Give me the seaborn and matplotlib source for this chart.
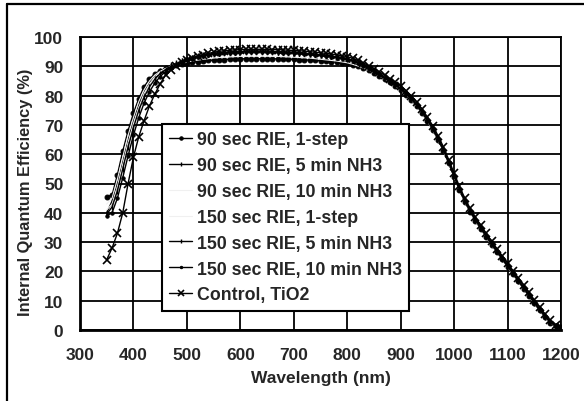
import matplotlib
matplotlib.use("Agg")
import matplotlib.pyplot as plt
from matplotlib.lines import Line2D
import seaborn as sns

# Wavelength grid (nm), 350-1200 in 10 nm steps
wavelength = list(range(350, 1201, 10))

rie90_1step = [
    45.5, 46.0, 53.0, 61.0, 68.0, 74.0, 79.0, 83.0, 85.7, 87.4,
    88.5, 89.3, 89.9, 90.4, 90.8, 91.1, 91.4, 91.6, 91.8, 92.0,
    92.1, 92.2, 92.3, 92.4, 92.5, 92.5, 92.6, 92.6, 92.6, 92.6,
    92.6, 92.6, 92.5, 92.5, 92.4, 92.4, 92.3, 92.2, 92.1, 92.0,
    91.9, 91.8, 91.6, 91.4, 91.2, 91.0, 90.6, 90.1, 89.5, 88.7,
    87.8, 86.8, 85.7, 84.5, 83.3, 81.9, 80.3, 78.5, 76.4, 74.0,
    71.3, 68.3, 64.9, 61.2, 56.9, 52.3, 47.8, 43.8, 40.3, 37.3,
    34.5, 31.8, 29.1, 26.6, 24.1, 21.6, 19.1, 16.6, 14.1, 11.6,
    9.1, 6.7, 4.4, 2.5, 1.2, 0.7,
]

rie90_nh3_5 = [
    40.0, 44.0, 50.0, 57.5, 65.0, 71.5, 77.0, 81.5, 84.5, 86.8,
    88.3, 89.4, 90.3, 91.0, 91.7, 92.3, 92.8, 93.2, 93.6, 93.9,
    94.1, 94.3, 94.5, 94.6, 94.7, 94.8, 94.8, 94.9, 94.9, 94.9,
    94.8, 94.8, 94.7, 94.6, 94.5, 94.4, 94.3, 94.2, 94.1, 93.9,
    93.7, 93.5, 93.3, 93.1, 92.8, 92.5, 91.9, 91.2, 90.3, 89.3,
    88.2, 87.1, 86.0, 84.8, 83.6, 82.2, 80.6, 78.8, 76.7, 74.3,
    71.6, 68.6, 65.2, 61.4, 57.0, 52.5, 48.0, 44.0, 40.5, 37.5,
    34.7, 32.0, 29.3, 26.8, 24.3, 21.8, 19.3, 16.8, 14.3, 11.8,
    9.3, 6.9, 4.6, 2.7, 1.3, 0.8,
]

rie90_nh3_10 = [
    41.0, 43.0, 49.0, 56.5, 64.0, 70.5, 76.0, 80.8, 84.0, 86.4,
    88.0, 89.2, 90.1, 90.9, 91.6, 92.2, 92.7, 93.1, 93.5, 93.8,
    94.0, 94.2, 94.4, 94.5, 94.6, 94.7, 94.7, 94.8, 94.8, 94.8,
    94.7, 94.7, 94.6, 94.5, 94.4, 94.3, 94.2, 94.1, 94.0, 93.8,
    93.6, 93.4, 93.2, 93.0, 92.7, 92.4, 91.8, 91.1, 90.2, 89.2,
    88.1, 87.0, 85.9, 84.7, 83.5, 82.1, 80.5, 78.7, 76.6, 74.2,
    71.5, 68.5, 65.1, 61.3, 56.9, 52.4, 47.9, 43.9, 40.4, 37.4,
    34.6, 31.9, 29.2, 26.7, 24.2, 21.7, 19.2, 16.7, 14.2, 11.7,
    9.2, 6.8, 4.5, 2.6, 1.2, 0.7,
]

rie150_1step = [
    43.0, 45.0, 51.5, 59.0, 66.5, 72.5, 78.0, 82.0, 85.0, 87.0,
    88.3, 89.2, 89.9, 90.5, 91.0, 91.4, 91.8, 92.1, 92.4, 92.6,
    92.8, 93.0, 93.1, 93.2, 93.3, 93.4, 93.4, 93.5, 93.5, 93.5,
    93.5, 93.4, 93.4, 93.3, 93.2, 93.1, 93.0, 92.9, 92.8, 92.6,
    92.4, 92.2, 92.0, 91.8, 91.5, 91.2, 90.7, 90.1, 89.4, 88.6,
    87.7, 86.7, 85.6, 84.5, 83.3, 81.9, 80.3, 78.5, 76.4, 74.0,
    71.3, 68.3, 64.9, 61.2, 56.8, 52.3, 47.8, 43.8, 40.3, 37.3,
    34.5, 31.8, 29.1, 26.6, 24.1, 21.6, 19.1, 16.6, 14.1, 11.6,
    9.1, 6.7, 4.4, 2.5, 1.2, 0.7,
]

rie150_nh3_5 = [
    39.5, 42.0, 47.5, 55.0, 62.5, 69.0, 75.0, 79.5, 83.0, 85.6,
    87.5, 88.9, 90.0, 90.9, 91.7, 92.3, 92.9, 93.4, 93.8, 94.1,
    94.4, 94.6, 94.8, 94.9, 95.0, 95.1, 95.1, 95.2, 95.2, 95.2,
    95.1, 95.1, 95.0, 94.9, 94.8, 94.7, 94.6, 94.5, 94.3, 94.1,
    93.9, 93.7, 93.5, 93.2, 92.9, 92.6, 92.0, 91.3, 90.5, 89.5,
    88.4, 87.3, 86.2, 85.0, 83.8, 82.5, 80.9, 79.1, 77.0, 74.6,
    71.9, 68.9, 65.5, 61.8, 57.4, 52.8, 48.3, 44.3, 40.8, 37.8,
    35.0, 32.3, 29.6, 27.1, 24.6, 22.1, 19.6, 17.1, 14.6, 12.1,
    9.6, 7.1, 4.8, 2.9, 1.4, 0.9,
]

rie150_nh3_10 = [
    39.0, 40.0, 45.0, 52.0, 59.5, 66.5, 72.5, 77.5, 81.3, 84.3,
    86.5, 88.2, 89.5, 90.5, 91.3, 92.0, 92.6, 93.1, 93.5, 93.8,
    94.1, 94.3, 94.5, 94.6, 94.7, 94.8, 94.9, 94.9, 94.9, 94.9,
    94.9, 94.8, 94.8, 94.7, 94.6, 94.5, 94.4, 94.3, 94.1, 93.9,
    93.7, 93.5, 93.3, 93.0, 92.7, 92.4, 91.8, 91.1, 90.2, 89.2,
    88.1, 87.0, 85.9, 84.7, 83.5, 82.1, 80.5, 78.7, 76.6, 74.2,
    71.5, 68.5, 65.1, 61.3, 56.9, 52.4, 47.9, 43.9, 40.4, 37.4,
    34.6, 31.9, 29.2, 26.7, 24.2, 21.7, 19.2, 16.7, 14.2, 11.7,
    9.2, 6.8, 4.5, 2.6, 1.2, 0.7,
]

control_tio2 = [
    24.0, 28.0, 33.0, 40.0, 50.0, 59.0, 66.0, 71.5, 76.5, 80.5,
    84.0, 87.0, 88.8, 90.2, 91.3, 92.2, 92.9, 93.5, 94.0, 94.4,
    94.8, 95.1, 95.3, 95.5, 95.6, 95.7, 95.8, 95.8, 95.8, 95.8,
    95.8, 95.7, 95.7, 95.6, 95.5, 95.4, 95.3, 95.2, 95.0, 94.8,
    94.6, 94.4, 94.2, 93.9, 93.6, 93.3, 92.7, 92.0, 91.2, 90.2,
    89.2, 88.1, 87.0, 85.8, 84.6, 83.3, 81.7, 79.9, 77.8, 75.4,
    72.7, 69.7, 66.3, 62.5, 58.1, 53.5, 49.0, 45.0, 41.5, 38.5,
    35.7, 33.0, 30.3, 27.8, 25.3, 22.8, 20.3, 17.8, 15.3, 12.8,
    10.3, 7.8, 5.4, 3.3, 1.7, 1.0,
]

series_labels = [
    "90 sec RIE, 1-step",
    "90 sec RIE, 5 min NH3",
    "90 sec RIE, 10 min NH3",
    "150 sec RIE, 1-step",
    "150 sec RIE, 5 min NH3",
    "150 sec RIE, 10 min NH3",
    "Control, TiO2",
]
series_values = [rie90_1step, rie90_nh3_5, rie90_nh3_10, rie150_1step,
                 rie150_nh3_5, rie150_nh3_10, control_tio2]

x_ticks = list(range(300, 1201, 100))
y_ticks = list(range(0, 101, 10))

sns.set_style("white")
plt.rcParams["font.family"] = ["Liberation Sans", "DejaVu Sans"]
plt.rcParams["font.weight"] = "bold"

# per-series line styling (two series are drawn very faint)
styles = [
    dict(color="black", marker="o", markersize=3.5, mec="black", mfc="black", linewidth=1.0),
    dict(color="black", marker="|", markersize=4.5, mec="black", markeredgewidth=1.0, linewidth=1.0),
    dict(color="#f0f0f0", marker="", linewidth=0.8),
    dict(color="#f0f0f0", marker="", linewidth=0.8),
    dict(color="black", marker="|", markersize=4, mec="black", markeredgewidth=1.0, linewidth=1.0),
    dict(color="black", marker="o", markersize=2.4, mec="black", mfc="black", linewidth=1.0),
    dict(color="black", marker="x", markersize=5.5, mec="black", markeredgewidth=1.2, linewidth=1.0),
]

W, H = 584, 402
fig = plt.figure(figsize=(W / 100, H / 100), dpi=100)
ax = fig.add_axes([80 / W, 1 - 331 / H, 481 / W, 293 / H])

for label, vals, st in zip(series_labels, series_values, styles):
    sns.lineplot(x=wavelength, y=vals, ax=ax, label=label, **st)

ax.set_xlim(300, 1200)
ax.set_ylim(0, 100)
ax.set_xticks(x_ticks)
ax.set_yticks(y_ticks)
ax.tick_params(axis="both", length=0, labelsize=12.5)
ax.tick_params(axis="x", pad=12)
ax.tick_params(axis="y", pad=12)
for t in ax.get_xticklabels() + ax.get_yticklabels():
    t.set_fontweight("bold")

ax.grid(True, color="black", linewidth=1.3)
ax.set_axisbelow(True)
for sp in ax.spines.values():
    sp.set_color("black")
    sp.set_linewidth(1.3)
ax.spines["left"].set_linewidth(2.0)
ax.spines["bottom"].set_linewidth(2.0)

ax.set_xlabel("Wavelength (nm)", fontsize=12.5, fontweight="bold", labelpad=6)
ax.set_ylabel("Internal Quantum Efficiency (%)", fontsize=11.8, fontweight="bold")
ax.yaxis.set_label_coords(-0.098, 0.475)

leg = ax.legend(loc="upper left", bbox_to_anchor=(82 / 481, (331 - 125) / 293),
                borderaxespad=0, fontsize=12.8, frameon=True, fancybox=False,
                framealpha=1, edgecolor="black", handlelength=1.3,
                handletextpad=0.25, labelspacing=0.5, borderpad=0.4,
                markerscale=0.7)
leg.get_frame().set_linewidth(1.5)
for txt in leg.get_texts():
    txt.set_fontweight("bold")

# page border lines along the top and left of the figure
fig.add_artist(Line2D([7 / W, 1.0], [1 - 5 / H, 1 - 5 / H], color="black", linewidth=1.6,
                      transform=fig.transFigure))
fig.add_artist(Line2D([7 / W, 7 / W], [0.0, 1 - 5 / H], color="black", linewidth=1.6,
                      transform=fig.transFigure))

fig.savefig("out.png", dpi=100)
